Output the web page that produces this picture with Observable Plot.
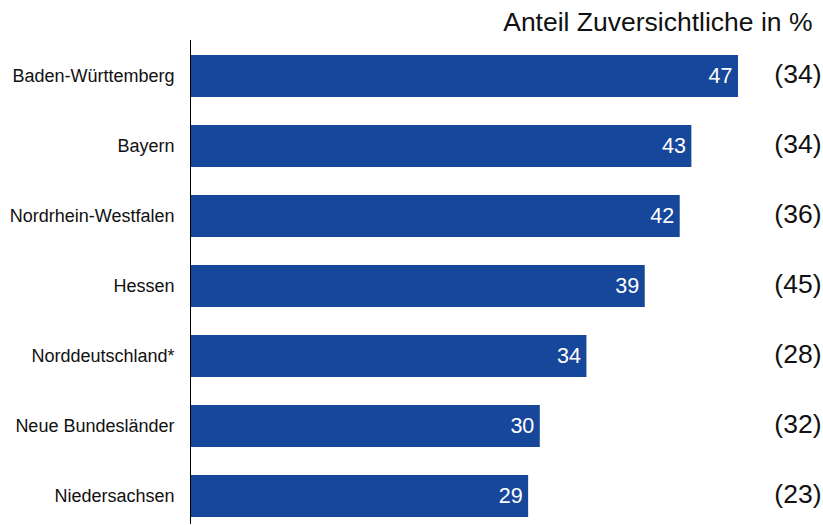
<!DOCTYPE html>
<html><head><meta charset="utf-8">
<script src="https://cdn.jsdelivr.net/npm/d3@7"></script>
<script src="https://cdn.jsdelivr.net/npm/@observablehq/plot@0.6"></script>
<style>body{margin:0;background:#fff;font-family:"Liberation Sans",Arial,sans-serif}</style>
</head><body><div id="chart"></div>
<script>
const regions = ["Baden-Württemberg","Bayern","Nordrhein-Westfalen","Hessen","Norddeutschland*","Neue Bundesländer","Niedersachsen"];
const values = [47,43,42,39,34,30,29];
const previous = [34,34,36,45,28,32,23];
const title = "Anteil Zuversichtliche in %";
const data = regions.map((r,i)=>({region:r, value:values[i], prev:previous[i]}));
const blue = "#17479a";
const chart = Plot.plot({
  width: 823, height: 525,
  marginLeft: 190, marginRight: 50, marginTop: 40, marginBottom: 1,
  style: {fontFamily: '"Liberation Sans", Arial, sans-serif', background: "#fff"},
  x: {domain: [0, 50], axis: null},
  y: {domain: regions, paddingInner: 0.4, paddingOuter: 0.1, insetTop: 8, label: null},
  marks: [
    Plot.barX(data, {y: "region", x: "value", fill: blue}),
    Plot.ruleX([0], {stroke: "#000", strokeWidth: 1}),
    Plot.axisY({tickSize: 0, tickPadding: 16, fontSize: 18, fill: "#111", label: null}),
    Plot.text(data, {y: "region", x: "value", text: d => String(d.value), textAnchor: "end", dx: -6, fill: "#fff", fontSize: 21.5}),
    Plot.text(data, {y: "region", text: d => `(${d.prev})`, frameAnchor: "right", textAnchor: "end", dx: 48, dy: -2, fill: "#111", fontSize: 26.5}),
    Plot.text([title], {frameAnchor: "top-right", textAnchor: "end", lineAnchor: "middle", dx: 39, dy: -18, fill: "#111", fontSize: 26.5})
  ]
});
document.getElementById("chart").appendChild(chart);
</script></body></html>
